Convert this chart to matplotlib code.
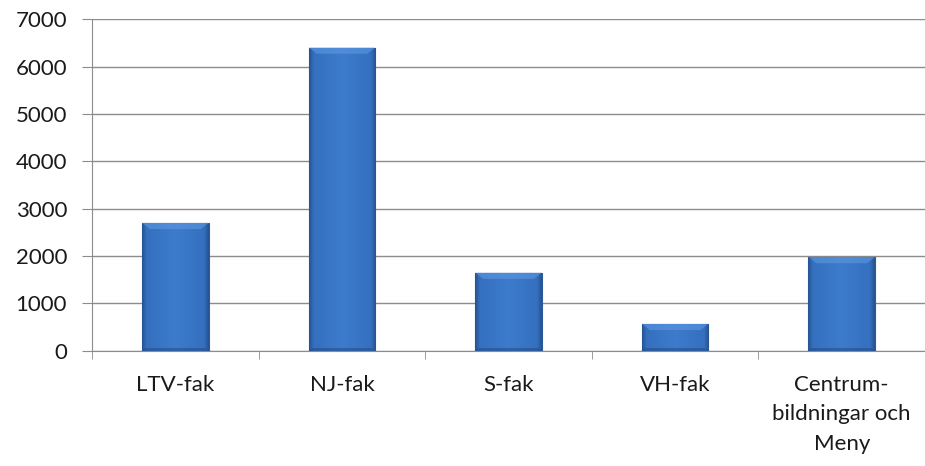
import numpy as np
import matplotlib.pyplot as plt
from matplotlib.colors import LinearSegmentedColormap

categories = ['LTV-fak', 'NJ-fak', 'S-fak', 'VH-fak', 'Centrum-\nbildningar och\nMeny']
values = [2700, 6400, 1650, 570, 1980]
yticks = [0, 1000, 2000, 3000, 4000, 5000, 6000, 7000]

plt.rcParams['font.family'] = ['Lato', 'DejaVu Sans']

fig = plt.figure(figsize=(9.25, 4.66), dpi=100)
ax = fig.add_axes([0.0995, 0.247, 0.9005, 0.712])

x = np.arange(len(categories))
bars = ax.bar(x, values, width=0.40, color='#3b77c7', edgecolor='#2c5a9a', linewidth=0.8, zorder=2)

# flat blue with darker sides, like the excel bevel look
cmap = LinearSegmentedColormap.from_list(
    'bev', [(0, '#26528f'), (0.07, '#3570bf'), (0.5, '#3d7bcc'), (0.93, '#3570bf'), (1, '#26528f')])
grad = np.linspace(0, 1, 256).reshape(1, -1)
for b in bars:
    x0, w, h = b.get_x(), b.get_width(), b.get_height()
    im = ax.imshow(grad, cmap=cmap, aspect='auto', extent=[x0, x0 + w, 0, h], zorder=2.5)
    im.set_clip_path(b)
    # lighter bevel at the top, darker at the bottom
    ax.fill([x0, x0 + w, x0 + w * 0.88, x0 + w * 0.12], [h, h, h - 130, h - 130],
            color='#5e98e2', alpha=0.6, zorder=2.6, lw=0)
    ax.fill([x0, x0 + w, x0 + w * 0.94, x0 + w * 0.06], [0, 0, 60, 60],
            color='#234d88', alpha=0.6, zorder=2.6, lw=0)

ax.set_xlim(-0.5, len(categories) - 0.5)
ax.set_ylim(0, 7000)
ax.set_yticks(yticks)
ax.set_yticklabels([str(v) for v in yticks])
ax.set_xticks(x)
ax.set_xticklabels(categories, linespacing=1.6)
ax.set_xticks(np.arange(-0.5, len(categories), 1.0), minor=True)

ax.yaxis.grid(True, color='#8c8c8c', linewidth=1.0, zorder=0)
ax.set_axisbelow(True)

for s in ['top', 'right']:
    ax.spines[s].set_visible(False)
ax.spines['left'].set_color('#8c8c8c')
ax.spines['bottom'].set_color('#8c8c8c')

ax.tick_params(axis='y', length=7, color='#8c8c8c', pad=11, labelsize=16, labelcolor='#1a1a1a')
ax.tick_params(axis='x', which='major', length=0, pad=17, labelsize=16, labelcolor='#1a1a1a')
ax.tick_params(axis='x', which='minor', length=6, color='#8c8c8c')

fig.savefig('out.png', dpi=100)
